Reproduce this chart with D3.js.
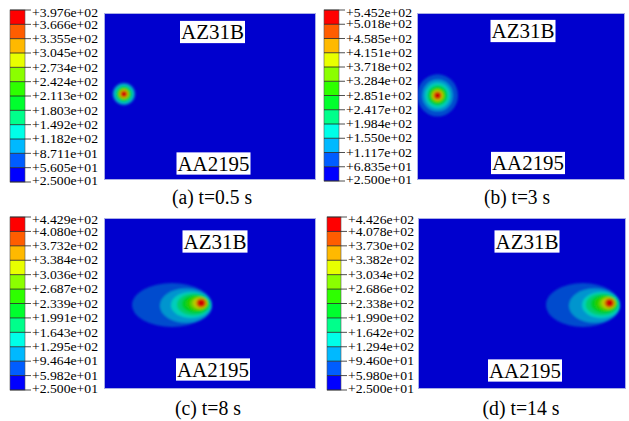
<!DOCTYPE html>
<html>
<head>
<meta charset="utf-8">
<script src="https://cdn.jsdelivr.net/npm/d3@7"></script>
<style>
  html, body { margin: 0; padding: 0; background: #fff; }
  svg { display: block; }
  text { font-family: 'Liberation Serif', 'Tinos', 'Times New Roman', Times, 'Nimbus Roman', 'DejaVu Serif', serif; }
</style>
</head>
<body>
<div id="chart"></div>
<script>
// Abaqus-style rainbow, band 1 (coolest) .. band 12 (hottest)
var bandColors = ['#0000ff', '#005dff', '#00b9ff', '#00ffe8', '#00ff8b', '#00ff2e',
                  '#2eff00', '#8bff00', '#e8ff00', '#ffb900', '#ff5d00', '#ff0000'];

// legend values, top to bottom (temperature, C)
var ticksA = [397.6, 366.6, 335.5, 304.5, 273.4, 242.4, 211.3, 180.3, 149.2, 118.2, 87.11, 56.05, 25.0];
var ticksB = [545.2, 501.8, 458.5, 415.1, 371.8, 328.4, 285.1, 241.7, 198.4, 155.0, 111.7, 68.35, 25.0];
var ticksC = [442.9, 408.0, 373.2, 338.4, 303.6, 268.7, 233.9, 199.1, 164.3, 129.5, 94.64, 59.82, 25.0];
var ticksD = [442.6, 407.8, 373.0, 338.2, 303.4, 268.6, 233.8, 199.0, 164.2, 129.4, 94.60, 59.80, 25.0];

var captions = ['(a) t=0.5 s', '(b) t=3 s', '(c) t=8 s', '(d) t=14 s'];
var materials = ['AZ31B', 'AA2195'];

// plate is 100 x 80 (mm), y up. isotherms read off the picture:
// [band, centre x, centre y, semi-axis x, semi-axis y]
var isoA = [
    [2, 9.4, 41.2, 5.5, 5.5], [3, 9.4, 41.2, 5.0, 5.0], [4, 9.4, 41.2, 4.3, 4.3],
    [5, 9.4, 41.2, 3.8, 3.8], [6, 9.4, 41.2, 3.3, 3.3], [7, 9.4, 41.2, 2.85, 2.85],
    [8, 9.4, 41.2, 2.45, 2.45], [9, 9.4, 41.2, 2.1, 2.1], [10, 9.4, 41.2, 1.8, 1.8],
    [11, 9.4, 41.2, 1.45, 1.45], [12, 9.4, 41.2, 1.1, 1.1]
];
var isoB = [
    [2, 9.9, 40.5, 9.8, 10.1], [3, 9.9, 40.5, 7.4, 7.6], [4, 9.9, 40.5, 6.0, 6.1],
    [5, 9.9, 40.5, 5.0, 5.0], [6, 9.9, 40.5, 4.3, 4.3], [7, 9.9, 40.5, 3.6, 3.6],
    [8, 9.9, 40.5, 3.1, 3.1], [9, 9.9, 40.5, 2.6, 2.6], [10, 9.9, 40.5, 2.15, 2.15],
    [11, 9.9, 40.5, 1.7, 1.7], [12, 9.9, 40.5, 1.2, 1.2]
];
var isoC = [
    [2, 32.1, 39.3, 18.9, 10.3], [3, 38.7, 39.0, 12.3, 8.0], [4, 41.0, 39.3, 9.4, 6.1],
    [5, 42.2, 39.5, 7.8, 5.15], [6, 43.2, 39.8, 6.4, 4.2], [7, 43.9, 40.0, 5.2, 3.5],
    [8, 44.7, 40.0, 4.1, 3.0], [9, 45.3, 40.2, 3.3, 2.6], [10, 45.75, 40.2, 2.6, 2.25],
    [11, 45.85, 40.2, 2.0, 1.87], [12, 45.85, 40.2, 1.5, 1.5]
];
var isoD = [
    [2, 79.3, 39.3, 17.8, 10.3], [3, 84.9, 39.0, 12.3, 8.0], [4, 88.0, 39.3, 9.1, 6.1],
    [5, 88.5, 39.5, 7.9, 5.15], [6, 89.5, 39.8, 6.4, 4.2], [7, 90.2, 40.0, 5.2, 3.5],
    [8, 91.0, 40.0, 4.1, 3.0], [9, 91.6, 40.2, 3.3, 2.6], [10, 92.0, 40.2, 2.6, 2.25],
    [11, 92.1, 40.2, 2.0, 1.87], [12, 92.1, 40.2, 1.5, 1.5]
];

var plateW = 100, plateH = 80;
var width = 629, height = 421;

// page layout (pixels): plot box, legend bar, caption, material labels
var panels = [
    {plot: [104, 13, 316, 180], bar: [10, 10, 25, 182], ticks: ticksA, iso: isoA,
     cap: [212, 204, 80], labels: [[212.5, 32], [213.5, 163.5]]},
    {plot: [417, 13, 625, 180], bar: [324, 10, 339, 181], ticks: ticksB, iso: isoB,
     cap: [517, 204, 66], labels: [[523, 31], [528, 163]]},
    {plot: [104, 218, 316, 389], bar: [10, 217, 25, 390], ticks: ticksC, iso: isoC,
     cap: [208, 415, 66], labels: [[215, 241.5], [213, 369.5]]},
    {plot: [418, 218, 626, 389], bar: [327, 217, 341, 390], ticks: ticksD, iso: isoD,
     cap: [521, 415, 77], labels: [[527, 241.5], [525, 370.5]]}
];
var labelWidths = [63, 72];

function fmtExp(v) {
    return d3.format('+.3e')(v).replace(/e([+-])(\d)$/, function(m, s, d) { return 'e' + s + '0' + d; });
}

var fieldColor = d3.scaleOrdinal()
    .domain(d3.range(1, 13))
    .range(bandColors.map(function(c) { return d3.color(c).darker(0.6).formatHex(); }));

var svg = d3.select('#chart').append('svg')
    .attr('width', width)
    .attr('height', height)
    .style('background', '#fff');

var defs = svg.append('defs');
defs.append('filter')
    .attr('id', 'soft')
    .attr('x', '-20%').attr('y', '-20%').attr('width', '140%').attr('height', '140%')
  .append('feGaussianBlur')
    .attr('stdDeviation', 0.8);

panels.forEach(function(p, i) {
    var x = d3.scaleLinear().domain([0, plateW]).range([p.plot[0], p.plot[2]]);
    var y = d3.scaleLinear().domain([0, plateH]).range([p.plot[3], p.plot[1]]);
    var g = svg.append('g');

    defs.append('clipPath').attr('id', 'clip' + i)
      .append('rect')
        .attr('x', x(0)).attr('y', y(plateH))
        .attr('width', x(plateW) - x(0)).attr('height', y(0) - y(plateH));

    g.append('rect')
        .attr('x', x(0)).attr('y', y(plateH))
        .attr('width', x(plateW) - x(0)).attr('height', y(0) - y(plateH))
        .attr('fill', fieldColor(1));

    g.append('g')
        .attr('clip-path', 'url(#clip' + i + ')')
      .append('g')
        .attr('filter', 'url(#soft)')
      .selectAll('ellipse')
        .data(p.iso)
        .enter().append('ellipse')
        .attr('cx', function(d) { return x(d[1]); })
        .attr('cy', function(d) { return y(d[2]); })
        .attr('rx', function(d) { return x(d[3]) - x(0); })
        .attr('ry', function(d) { return y(0) - y(d[4]); })
        .attr('fill', function(d) { return fieldColor(d[0]); });

    g.append('rect')
        .attr('x', x(0) + 0.5).attr('y', y(plateH) + 0.5)
        .attr('width', x(plateW) - x(0) - 1).attr('height', y(0) - y(plateH) - 1)
        .attr('fill', 'none')
        .attr('stroke', '#a9aee6')
        .attr('stroke-width', 1);

    // material labels in white boxes
    materials.forEach(function(m, k) {
        var pos = p.labels[k];
        var fs = 21, w = labelWidths[k];
        g.append('rect')
            .attr('x', pos[0] - w / 2 - 1).attr('y', pos[1] - fs * 0.53)
            .attr('width', w + 2).attr('height', fs * 1.06)
            .attr('fill', '#fff');
        g.append('text')
            .attr('x', pos[0] - w / 2).attr('y', pos[1] + fs * 0.34)
            .attr('textLength', w)
            .attr('lengthAdjust', 'spacingAndGlyphs')
            .attr('font-size', fs)
            .attr('fill', '#000')
            .text(m);
    });

    // legend
    var bx0 = p.bar[0], bx1 = p.bar[2];
    var ly = d3.scaleLinear().domain([0, 12]).range([p.bar[3], p.bar[1]]);
    var lg = g.append('g');
    lg.selectAll('rect.cell')
        .data(bandColors)
        .enter().append('rect')
        .attr('class', 'cell')
        .attr('x', bx0)
        .attr('y', function(d, j) { return ly(j + 1); })
        .attr('width', bx1 - bx0)
        .attr('height', function(d, j) { return ly(j) - ly(j + 1); })
        .attr('fill', function(d) { return d; });
    lg.append('rect')
        .attr('x', bx0).attr('y', ly(12))
        .attr('width', bx1 - bx0).attr('height', ly(0) - ly(12))
        .attr('fill', 'none').attr('stroke', '#555').attr('stroke-width', 0.6);
    lg.selectAll('line.tick')
        .data(d3.range(13))
        .enter().append('line')
        .attr('class', 'tick')
        .attr('x1', bx0).attr('x2', bx1 + 6)
        .attr('y1', function(j) { return ly(j); })
        .attr('y2', function(j) { return ly(j); })
        .attr('stroke', '#222').attr('stroke-width', 0.8);
    lg.selectAll('text')
        .data(p.ticks)
        .enter().append('text')
        .attr('x', bx1 + 7)
        .attr('y', function(v, j) {
            var yy = ly(12 - j);
            if (j === 0) yy = ly(12) + 3;
            if (j === 12) yy = ly(0) - 1.5;
            return yy + 4.2;
        })
        .attr('textLength', 66)
        .attr('lengthAdjust', 'spacingAndGlyphs')
        .attr('font-size', 12)
        .attr('fill', '#000')
        .text(function(v) { return fmtExp(v); });

    // caption
    g.append('text')
        .attr('x', p.cap[0] - p.cap[2] / 2).attr('y', p.cap[1])
        .attr('textLength', p.cap[2])
        .attr('lengthAdjust', 'spacingAndGlyphs')
        .attr('font-size', 20)
        .attr('fill', '#000')
        .text(captions[i]);
});
</script>
</body>
</html>
